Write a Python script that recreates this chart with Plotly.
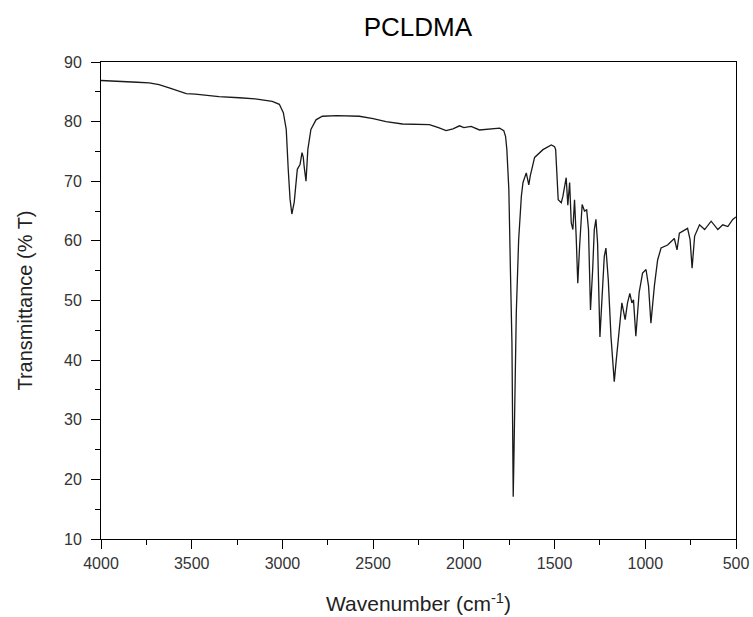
import plotly.graph_objects as go

wavenumber = [4000, 3900, 3800, 3735, 3680, 3620, 3570, 3530, 3480, 3420, 3350, 3238, 3150, 3056, 3017,
              2995, 2979, 2968, 2958, 2948, 2935, 2918, 2903, 2892, 2885, 2880, 2870, 2860, 2843, 2815,
              2780, 2700, 2576, 2500, 2429, 2338, 2250, 2190, 2140, 2098, 2060, 2024, 2000, 1960, 1914,
              1860, 1803, 1780, 1770, 1763, 1752, 1743, 1735, 1731, 1728, 1725, 1719, 1711, 1698, 1683,
              1674, 1656, 1642, 1634, 1610, 1564, 1518, 1500, 1494, 1487, 1480, 1463, 1454, 1436, 1427,
              1417, 1408, 1399, 1390, 1381, 1372, 1362, 1348, 1335, 1323, 1313, 1302, 1290, 1281, 1272,
              1263, 1250, 1239, 1226, 1217, 1204, 1189, 1171, 1160, 1144, 1129, 1111, 1098, 1085, 1074,
              1065, 1052, 1034, 1015, 996, 982, 969, 950, 932, 913, 877, 840, 825, 812, 767,
              753, 742, 728, 701, 673, 637, 600, 573, 545, 518, 500]
transmittance = [86.9, 86.8, 86.6, 86.5, 86.2, 85.6, 85.1, 84.7, 84.6, 84.4, 84.2, 84.0, 83.8, 83.4, 82.9,
                 81.5, 78.7, 72.0, 67.0, 64.5, 66.5, 72.0, 72.8, 74.8, 74.0, 72.4, 70.0, 75.3, 78.7, 80.3,
                 80.9, 81.0, 80.9, 80.5, 80.0, 79.6, 79.6, 79.5, 79.0, 78.5, 78.8, 79.3, 79.0, 79.2, 78.6,
                 78.8, 78.9, 78.5, 77.5, 75.3, 68.6, 54.6, 42.9, 28.3, 17.1, 22.0, 35.6, 47.9, 60.2, 67.5,
                 69.8, 71.4, 69.4, 70.9, 74.0, 75.3, 76.1, 75.8, 75.3, 72.0, 66.9, 66.4, 67.5, 70.6, 66.0,
                 69.8, 63.0, 61.9, 66.9, 60.8, 52.9, 59.1, 66.1, 65.0, 65.2, 61.9, 48.4, 55.2, 61.9, 63.6,
                 59.7, 43.9, 49.5, 57.4, 58.8, 53.5, 43.9, 36.4, 40.0, 45.6, 49.6, 46.8, 49.6, 51.2, 49.6,
                 50.1, 44.0, 51.3, 54.6, 55.2, 52.4, 46.2, 52.4, 56.8, 58.8, 59.3, 60.4, 58.5, 61.3, 62.1,
                 60.2, 55.4, 60.8, 62.7, 61.9, 63.3, 61.9, 62.7, 62.4, 63.6, 64.0]

fig = go.Figure()
fig.add_trace(go.Scatter(x=wavenumber, y=transmittance, mode="lines",
                         line=dict(color="#1a1a1a", width=1.3), showlegend=False))

font = "Liberation Sans, Arial, sans-serif"
axis_common = dict(showline=True, linecolor="black", linewidth=1, mirror=True,
                   ticks="outside", tickcolor="black", ticklen=9, tickwidth=1,
                   showgrid=False, zeroline=False, automargin=False,
                   tickfont=dict(family=font, size=16, color="#333"))

fig.update_layout(
    width=753, height=617,
    margin=dict(l=101, r=17, t=62, b=78),
    paper_bgcolor="white", plot_bgcolor="white",
    title=dict(text="PCLDMA", x=0.555, xanchor="center", y=0.956, yanchor="middle",
               font=dict(family=font, size=26, color="black")),
    xaxis=dict(range=[4000, 500], tickvals=[4000, 3500, 3000, 2500, 2000, 1500, 1000, 500],
               minor=dict(ticks="outside", ticklen=5, tickcolor="black", dtick=250, tick0=500),
               ticklabelstandoff=1,
               title=dict(text="Wavenumber (cm<sup>-1</sup>)", standoff=25,
                          font=dict(family=font, size=21, color="#222")),
               **axis_common),
    yaxis=dict(range=[10, 90], dtick=10, tick0=10,
               minor=dict(ticks="outside", ticklen=5, tickcolor="black", dtick=5),
               ticklabelstandoff=6,
               title=dict(text="Transmittance (% T)", standoff=26,
                          font=dict(family=font, size=20, color="#222")),
               **axis_common),
)

fig.write_html("out.html")
